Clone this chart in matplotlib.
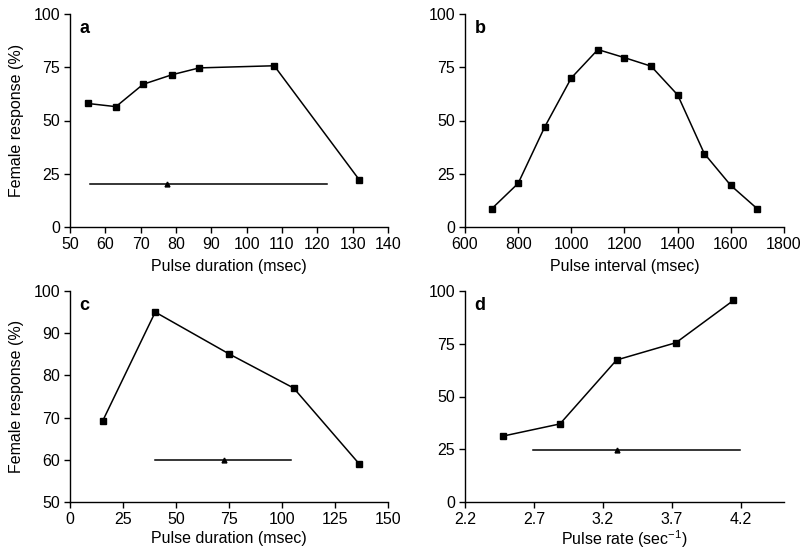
import matplotlib
matplotlib.use("Agg")
import matplotlib.pyplot as plt

plt.rcParams['font.family'] = ['Liberation Sans', 'DejaVu Sans']

# Panel a
a_x = [55, 63, 70.7, 78.9, 86.6, 107.8, 131.8]
a_y = [58, 56.5, 67, 71.5, 74.7, 75.7, 22.3]
a_line_x = [55.8, 122.7]
a_line_y = [20, 20]
a_tri_x = [77.4]
a_tri_y = [20]

# Panel b
b_x = [700, 800, 900, 1000, 1100, 1200, 1300, 1400, 1500, 1600, 1700]
b_y = [8.5, 20.5, 47, 70, 83.3, 79.5, 75.5, 62, 34.5, 19.5, 8.5]

# Panel c
c_x = [15.4, 40.2, 75.0, 105.5, 136.3]
c_y = [69.2, 95.0, 85.1, 77.0, 59.1]
c_line_x = [40.2, 104.1]
c_line_y = [60, 60]
c_tri_x = [72.7]
c_tri_y = [60]

# Panel d
d_x = [2.473, 2.889, 3.300, 3.731, 4.147]
d_y = [31.2, 37.0, 67.3, 75.5, 95.5]
d_line_x = [2.69, 4.195]
d_line_y = [24.7, 24.7]
d_tri_x = [3.30]
d_tri_y = [24.7]

fig = plt.figure(figsize=(8.03, 5.54), dpi=100)
W, H = 803, 554

def mkax(l, r, t, b):
    return fig.add_axes([l / W, 1 - b / H, (r - l) / W, (b - t) / H])

axa = mkax(70, 388, 14, 227)
axb = mkax(465, 784, 14, 227)
axc = mkax(70, 388, 291, 502)
axd = mkax(465, 784, 291, 502)

FS = 11.5

def style(ax, xlab_center_px, bottom_px, height_px, ylabel=None):
    for s in ('top', 'right'):
        ax.spines[s].set_visible(False)
    for s in ('left', 'bottom'):
        ax.spines[s].set_linewidth(1.0)
    ax.tick_params(direction='out', length=4, width=1, labelsize=FS, pad=3)
    ax.xaxis.label.set_fontsize(FS)
    ax.xaxis.label.set_verticalalignment('center')
    ax.xaxis.set_label_coords(0.5, -(xlab_center_px - bottom_px) / height_px)
    if ylabel:
        ax.set_ylabel(ylabel, fontsize=FS)
        ax.yaxis.label.set_verticalalignment('center')
        ax.yaxis.set_label_coords(-(70 - 17) / 318, 0.5)

mk = dict(color='black', marker='s', markersize=4.5, linewidth=1.1)
tk = dict(color='black', marker='^', markersize=3.5, linestyle='none')

# a
axa.plot(a_x, a_y, **mk)
axa.plot(a_line_x, a_line_y, color='black', linewidth=1.1)
axa.plot(a_tri_x, a_tri_y, **tk)
axa.set_xlim(50, 140)
axa.set_xticks(range(50, 141, 10))
axa.set_ylim(0, 100)
axa.set_yticks([0, 25, 50, 75, 100])
axa.set_xlabel('Pulse duration (msec)')
axa.text(0.03, 0.97, 'a', transform=axa.transAxes, fontsize=13, fontweight='bold', va='top', ha='left')
style(axa, 267, 227, 213, 'Female response (%)')

# b
axb.plot(b_x, b_y, **mk)
axb.set_xlim(600, 1800)
axb.set_xticks(range(600, 1801, 200))
axb.set_ylim(0, 100)
axb.set_yticks([0, 25, 50, 75, 100])
axb.set_xlabel('Pulse interval (msec)')
axb.text(0.03, 0.97, 'b', transform=axb.transAxes, fontsize=13, fontweight='bold', va='top', ha='left')
style(axb, 267, 227, 213)

# c
axc.plot(c_x, c_y, **mk)
axc.plot(c_line_x, c_line_y, color='black', linewidth=1.1)
axc.plot(c_tri_x, c_tri_y, **tk)
axc.set_xlim(0, 150)
axc.set_xticks(range(0, 151, 25))
axc.set_ylim(50, 100)
axc.set_yticks(range(50, 101, 10))
axc.set_xlabel('Pulse duration (msec)')
axc.text(0.03, 0.97, 'c', transform=axc.transAxes, fontsize=13, fontweight='bold', va='top', ha='left')
style(axc, 539, 502, 211, 'Female response (%)')

# d
axd.plot(d_x, d_y, **mk)
axd.plot(d_line_x, d_line_y, color='black', linewidth=1.1)
axd.plot(d_tri_x, d_tri_y, **tk)
axd.set_xlim(2.2, 4.515)
axd.set_xticks([2.2, 2.7, 3.2, 3.7, 4.2])
axd.set_xticklabels(['2.2', '2.7', '3.2', '3.7', '4.2'])
axd.set_ylim(0, 100)
axd.set_yticks([0, 25, 50, 75, 100])
axd.set_xlabel('Pulse rate (sec$^{\\mathregular{-1}}$)')
axd.text(0.03, 0.97, 'd', transform=axd.transAxes, fontsize=13, fontweight='bold', va='top', ha='left')
style(axd, 539, 502, 211)

fig.savefig('out.png', dpi=100)
